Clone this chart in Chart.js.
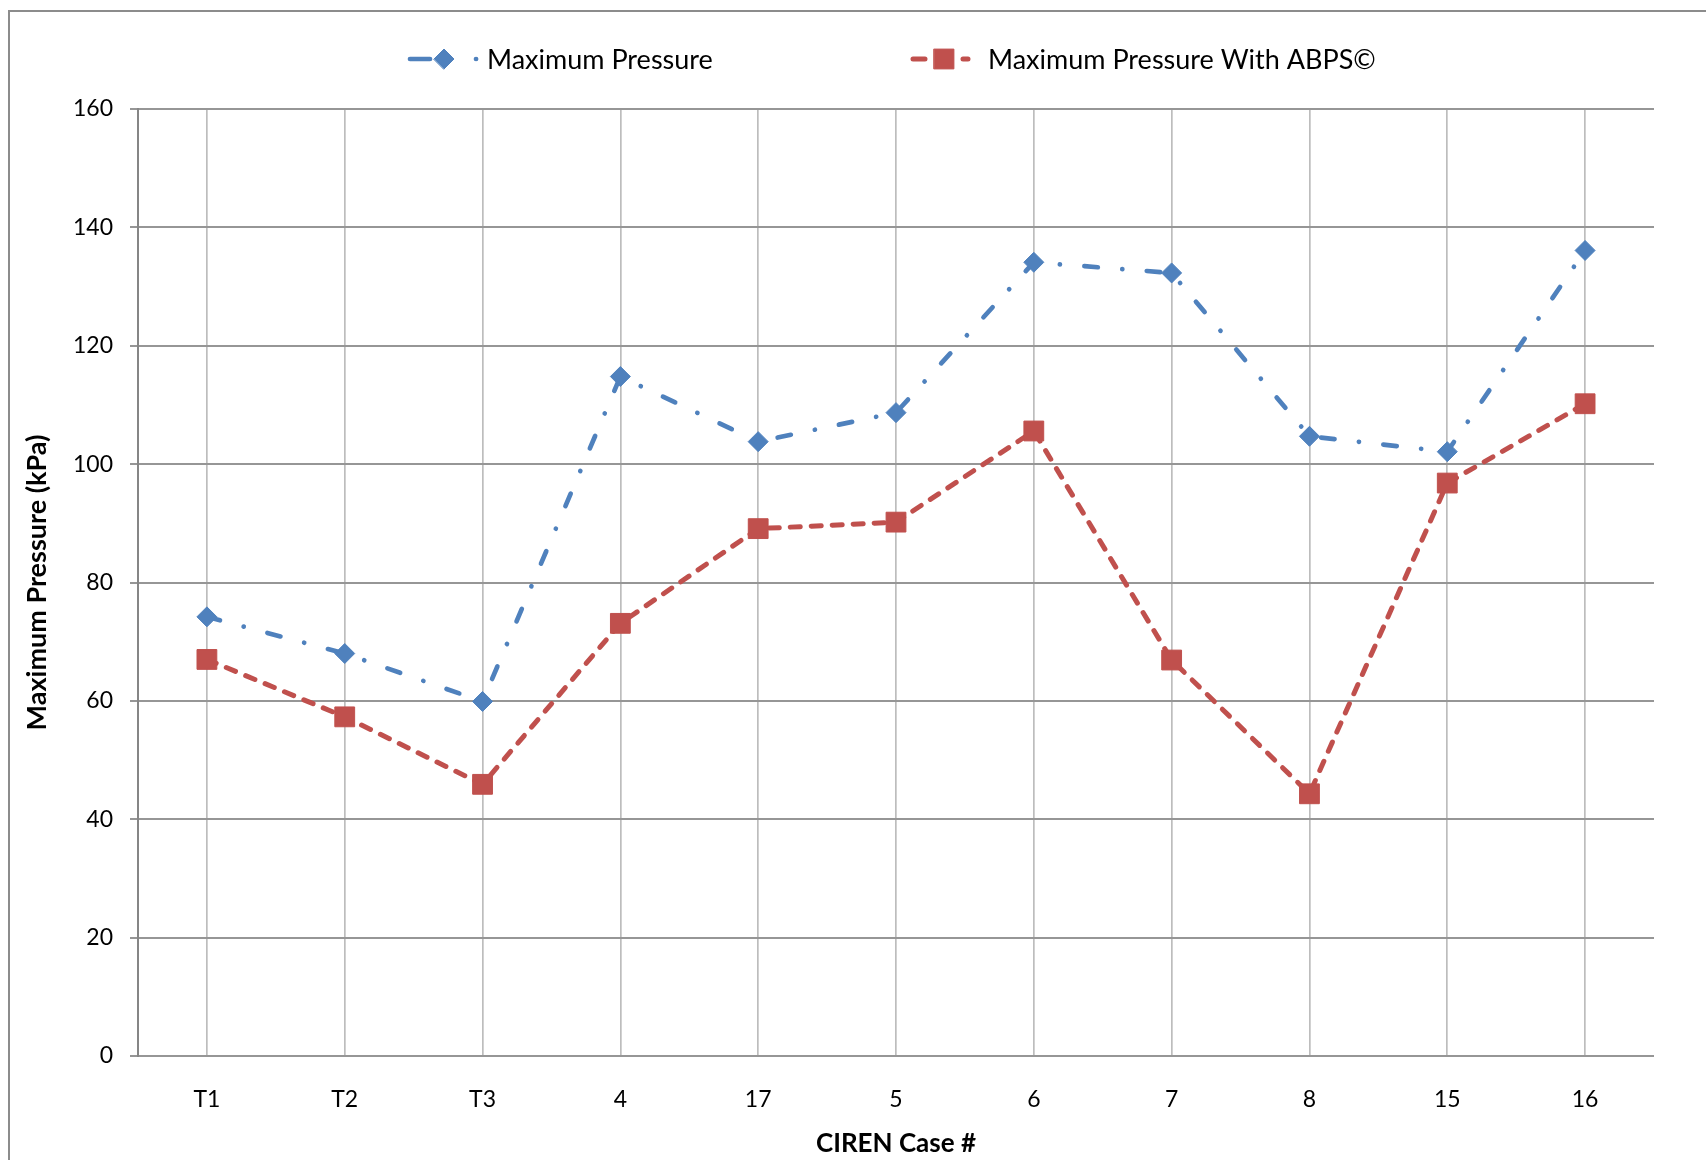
<!DOCTYPE html>
<html>
<head>
<meta charset="utf-8">
<title>Maximum Pressure</title>
<script src="https://cdn.jsdelivr.net/npm/chart.js@4.4.1/dist/chart.umd.min.js"></script>
<style>
  html, body { margin: 0; padding: 0; background: #fff; overflow: hidden; }
  #frame {
    position: absolute; left: 8px; top: 10px; width: 2000px; height: 2000px;
    border-left: 2px solid #8c8c8c; border-top: 2px solid #8c8c8c;
  }
  #chart { position: absolute; left: 0; top: 0; }
</style>
</head>
<body>
<div id="frame"></div>
<canvas id="chart" width="1706" height="1160"></canvas>
<script>
  // categories and series
  const caseLabels = ["T1", "T2", "T3", "4", "17", "5", "6", "7", "8", "15", "16"];
  const maxPressure = [74.2, 68.0, 59.9, 114.8, 103.8, 108.7, 134.1, 132.3, 104.7, 102.1, 136.1];
  const maxPressureAbps = [67.0, 57.3, 45.9, 73.1, 89.1, 90.2, 105.6, 66.9, 44.3, 96.8, 110.2];
  const seriesNames = ["Maximum Pressure", "Maximum Pressure With ABPS\u00a9"];
  const yMin = 0, yMax = 160, yStep = 20;

  const BLUE = "#4f81bd";
  const RED = "#c0504d";
  const FONT = "Lato, 'Open Sans', sans-serif";

  /* ---- legend drawn on top: dashed sample + marker + name ---- */
  const legendPlugin = {
    id: "lineLegend",
    afterDraw(chart) {
      const ctx = chart.ctx;
      const y = 59;
      const items = [
        { ds: 0, x0: 410, x1: 480, mx: 444, tx: 487, dash: [20, 46, 0.1, 100] },
        { ds: 1, x0: 913, x1: 968, mx: 944, tx: 988, dash: [12, 38, 12, 100] }
      ];
      items.forEach((it) => {
        const ds = chart.data.datasets[it.ds];
        ctx.save();
        ctx.strokeStyle = ds.borderColor;
        ctx.lineWidth = ds.borderWidth;
        ctx.lineCap = "round";
        ctx.setLineDash(it.dash);
        ctx.beginPath();
        ctx.moveTo(it.x0, y);
        ctx.lineTo(it.x1, y);
        ctx.stroke();
        ctx.setLineDash([]);
        ctx.fillStyle = ds.pointBackgroundColor;
        ctx.strokeStyle = ds.pointBorderColor;
        ctx.lineWidth = 1;
        Chart.helpers.drawPoint(ctx, { pointStyle: ds.pointStyle, radius: ds.pointRadius, rotation: 0, borderWidth: 1 }, it.mx, y);
        ctx.fillStyle = "#000";
        ctx.font = "27px " + FONT;
        ctx.textBaseline = "middle";
        ctx.fillText(ds.label, it.tx, y + 1);
        ctx.restore();
      });
    }
  };

  new Chart(document.getElementById("chart"), {
    type: "line",
    data: {
      labels: caseLabels,
      datasets: [
        {
          label: seriesNames[0],
          data: maxPressure,
          borderColor: BLUE,
          borderWidth: 4.7,
          borderDash: [13.5, 24.5, 0.1, 24.5],
          borderCapStyle: "round",
          borderJoinStyle: "round",
          pointStyle: "rectRot",
          pointRadius: 10,
          pointBorderWidth: 1,
          pointBackgroundColor: BLUE,
          pointBorderColor: BLUE,
          tension: 0,
          fill: false
        },
        {
          label: seriesNames[1],
          data: maxPressureAbps,
          borderColor: RED,
          borderWidth: 5,
          borderDash: [10, 11],
          borderCapStyle: "round",
          borderJoinStyle: "round",
          pointStyle: "rect",
          pointRadius: 14,
          pointBorderWidth: 1,
          pointBackgroundColor: RED,
          pointBorderColor: RED,
          tension: 0,
          fill: false
        }
      ]
    },
    options: {
      responsive: false,
      animation: false,
      events: [],
      layout: { padding: { top: 109, right: 52, left: 0, bottom: 0 } },
      plugins: {
        legend: { display: false },
        tooltip: { enabled: false }
      },
      scales: {
        x: {
          offset: true,
          afterFit: (s) => { s.height = 104; },
          grid: { color: "#bdbdbd", lineWidth: 1.7, drawTicks: false, offset: false },
          border: { display: false },
          ticks: { color: "#000", font: { family: FONT, size: 23 }, padding: 30, maxRotation: 0 },
          title: {
            display: true, text: "CIREN Case #", color: "#000",
            font: { family: FONT, size: 26, weight: "bold" }, padding: { top: 0, bottom: 1 }
          }
        },
        y: {
          min: yMin, max: yMax,
          afterFit: (s) => { s.width = 138; },
          grid: { color: "#969696", lineWidth: 2, tickLength: 8 },
          border: { display: true, color: "#868686", width: 2 },
          ticks: { stepSize: yStep, color: "#000", font: { family: FONT, size: 23 }, padding: 17 },
          title: {
            display: true, text: "Maximum Pressure (kPa)", color: "#000",
            font: { family: FONT, size: 27, weight: "bold" }, padding: { top: 21, bottom: 0 }
          }
        }
      }
    },
    plugins: [legendPlugin]
  });
</script>
</body>
</html>
